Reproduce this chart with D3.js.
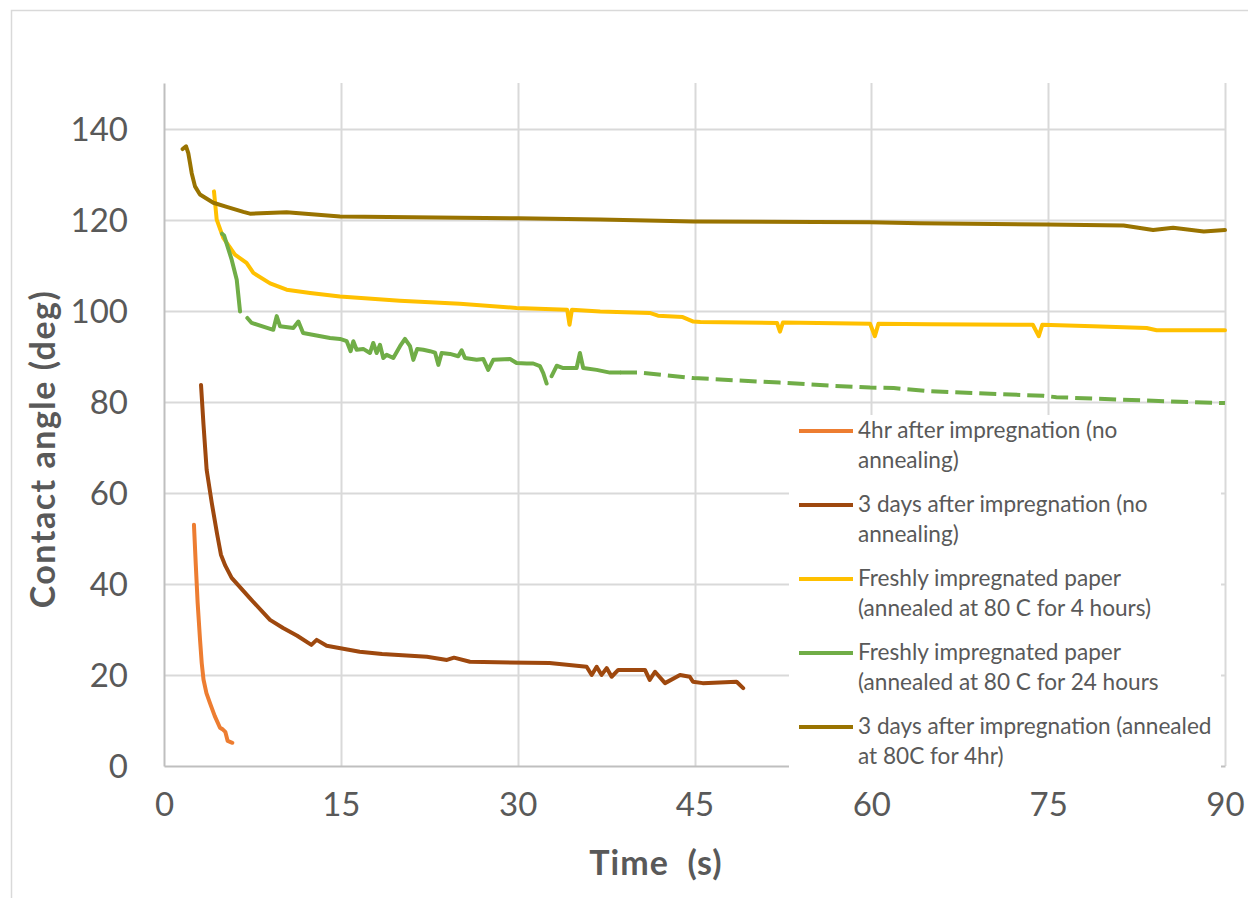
<!DOCTYPE html>
<html>
<head>
<meta charset="utf-8">
<script src="https://cdn.jsdelivr.net/npm/d3@7/dist/d3.min.js"></script>
<style>
  html, body { margin: 0; padding: 0; background: #fff; }
  svg { display: block; font-family: Lato, "Liberation Sans", sans-serif; }
</style>
</head>
<body>
<svg id="chart" width="1248" height="898"></svg>
<script>
// ---------- data ----------
const xTicks = [0, 15, 30, 45, 60, 75, 90];
const yTicks = [0, 20, 40, 60, 80, 100, 120, 140];
const xTitle = "Time  (s)";
const yTitle = "Contact angle (deg)";

const seriesNames = [
  ["4hr after impregnation (no", "annealing)"],
  ["3 days after impregnation (no", "annealing)"],
  ["Freshly impregnated paper", "(annealed at 80 C for 4 hours)"],
  ["Freshly impregnated paper", "(annealed at 80 C for 24 hours"],
  ["3 days after impregnation (annealed", "at 80C for 4hr)"]
];
const seriesColors = ["#ED7D31", "#9E480E", "#FFC000", "#70AD47", "#997300"];

// [time (s), contact angle (deg)]
const fourHrNoAnneal = [
  [2.54, 53.0], [2.7, 44], [2.85, 36], [3.05, 28], [3.2, 22.6], [3.35, 19],
  [3.6, 16], [3.9, 13.8], [4.3, 11], [4.75, 8.4], [5.0, 8.0], [5.2, 7.5],
  [5.4, 5.5], [5.8, 5.1]
];
const threeDayNoAnneal = [
  [3.14, 83.7], [3.35, 75], [3.62, 65], [4.05, 57.8], [4.5, 51], [4.83, 46.4],
  [5.2, 44], [5.74, 41.3], [7.3, 36.8], [8.99, 32.1], [10.1, 30.3], [11.3, 28.6],
  [12.5, 26.6], [12.95, 27.7], [13.8, 26.4], [16.6, 25.1], [18.5, 24.6],
  [22.3, 24.0], [24.0, 23.3], [24.6, 23.8], [25.95, 22.9], [32.7, 22.6],
  [35.85, 21.8], [36.28, 20.0], [36.7, 21.8], [37.12, 20.0], [37.55, 21.5],
  [37.97, 19.6], [38.53, 21.1], [40.8, 21.1], [41.2, 18.9], [41.65, 20.7],
  [42.5, 18.2], [43.77, 20.0], [44.6, 19.6], [44.87, 18.5], [45.7, 18.2],
  [48.57, 18.5], [49.13, 17.1]
];
const freshAnneal4h = [
  [4.24, 126.2], [4.47, 120], [5.03, 116], [6.02, 112.3], [7.0, 110.5],
  [7.58, 108.3], [9.0, 106], [10.4, 104.6], [12.4, 103.9], [14.93, 103.1],
  [20, 102.2], [25.1, 101.5], [29.9, 100.6], [34.2, 100.2], [34.4, 96.9],
  [34.6, 100.2], [37, 99.8], [41.2, 99.5], [41.9, 98.9], [44, 98.6],
  [44.9, 97.6], [45.5, 97.5], [52.0, 97.3], [52.25, 95.4], [52.5, 97.4],
  [59.9, 97.1], [60.3, 94.4], [60.6, 97.1], [65, 97.0], [73.7, 96.9],
  [74.2, 94.4], [74.5, 96.9], [78.8, 96.6], [83.35, 96.2], [84.2, 95.7],
  [90, 95.7]
];
const freshAnneal24h = [
  [4.92, 116.9], [5.1, 116.5], [5.74, 111.2], [6.17, 106.8], [6.45, 99.8],
  null,
  [7.07, 98.4], [7.44, 97.3], [9.27, 95.8], [9.56, 98.8], [9.84, 96.6],
  [10.97, 96.2], [11.4, 97.6], [11.8, 95.1], [14.08, 94.0], [14.93, 93.8],
  [15.5, 93.3], [15.83, 91.1], [16.06, 93.3], [16.34, 91.4], [16.9, 91.6],
  [17.47, 90.7], [17.75, 92.9], [18.04, 90.7], [18.32, 92.5], [18.6, 89.6],
  [18.89, 90.3], [19.45, 89.6], [20.02, 92.2], [20.44, 93.8], [20.87, 92.2],
  [21.15, 89.2], [21.48, 91.6], [22.0, 91.4], [22.56, 91.1], [22.99, 90.8],
  [23.27, 88.1], [23.55, 90.7], [24.26, 90.5], [24.96, 90.0], [25.25, 91.3],
  [25.53, 89.6], [26.52, 89.2], [27.08, 89.4], [27.5, 87.0], [27.93, 89.2],
  [29.35, 89.4], [29.91, 88.5], [30.76, 88.4], [31.32, 88.4], [31.89, 87.8],
  [32.17, 86.3], [32.46, 84.0],
  null,
  [32.88, 85.6], [33.31, 87.9], [33.87, 87.4], [35.0, 87.4], [35.28, 90.7],
  [35.56, 87.4], [36.7, 87.0], [37.83, 86.4], [38.68, 86.4], [40.4, 86.4],
  [44.9, 85.2], [52.2, 84.2], [56.8, 83.5], [59.9, 83.1], [61.9, 83.0],
  [65, 82.3], [74.6, 81.3], [75.7, 81.0], [83.9, 80.2], [90, 79.7]
];
const threeDayAnneal4h = [
  [1.58, 135.5], [1.87, 136.1], [2.06, 134.6], [2.2, 132.5], [2.35, 130.2],
  [2.63, 127.3], [3.05, 125.5], [4.18, 123.7], [5.32, 122.8], [6.73, 121.7],
  [7.29, 121.3], [10.4, 121.6], [14.93, 120.7], [25.1, 120.4], [30, 120.3],
  [37, 120.0], [44.9, 119.6], [59.9, 119.4], [64.1, 119.2], [74.9, 118.9],
  [81.4, 118.7], [83.9, 117.7], [85.6, 118.2], [88.2, 117.4], [90, 117.7]
];
const allSeries = [fourHrNoAnneal, threeDayNoAnneal, freshAnneal4h, freshAnneal24h, threeDayAnneal4h];

// ---------- layout ----------
const plot = { left: 164, right: 1225, top: 83, bottom: 766 };
const dashFrom = 38.68; // green series drawn dashed after this time
const lineW = 4;

const svg = d3.select("#chart");
const x = d3.scaleLinear().domain([0, 90]).range([plot.left, plot.right]);
const y = d3.scaleLinear().domain([0, 150]).range([plot.bottom, plot.top]);

// outer chart border
svg.append("path")
  .attr("d", "M11.5,898 L11.5,10.5 L1248,10.5")
  .attr("fill", "none").attr("stroke", "#d9d9d9").attr("stroke-width", 1.5);

// gridlines
const grid = svg.append("g");
grid.selectAll(".hg").data(yTicks.filter(d => d > 0)).join("line")
  .attr("x1", plot.left).attr("x2", plot.right)
  .attr("y1", d => Math.round(y(d)) + 0.5).attr("y2", d => Math.round(y(d)) + 0.5)
  .attr("stroke", "#d9d9d9").attr("stroke-width", 2);
grid.selectAll(".vg").data(xTicks.filter(d => d > 0)).join("line")
  .attr("y1", plot.top).attr("y2", plot.bottom)
  .attr("x1", d => Math.round(x(d)) + 0.5).attr("x2", d => Math.round(x(d)) + 0.5)
  .attr("stroke", "#d9d9d9").attr("stroke-width", 2);

// axes
const xAxis = svg.append("g").attr("transform", `translate(0,${plot.bottom})`)
  .call(d3.axisBottom(x).tickValues(xTicks).tickSize(0).tickPadding(38));
const yAxis = svg.append("g").attr("transform", `translate(${plot.left},0)`)
  .call(d3.axisLeft(y).tickValues(yTicks).tickSize(0).tickPadding(36));
[xAxis, yAxis].forEach(a => {
  a.select(".domain").attr("stroke", "#bfbfbf").attr("stroke-width", 2);
  a.selectAll("text").attr("fill", "#595959").attr("font-size", 33)
    .attr("font-family", "Lato, sans-serif");
});
yAxis.selectAll("text").attr("dy", "0.36em");
xAxis.selectAll("text").attr("dy", "0.36em");

// axis titles
svg.append("text").attr("x", 656).attr("y", 875).attr("text-anchor", "middle")
  .attr("font-size", 34).attr("font-weight", "bold").attr("fill", "#595959")
  .attr("letter-spacing", 1)
  .style("white-space", "pre").text(xTitle);
svg.append("text").attr("transform", "translate(55,449) rotate(-90)")
  .attr("text-anchor", "middle").attr("font-size", 34).attr("font-weight", "bold")
  .attr("letter-spacing", 1.5)
  .attr("fill", "#595959").text(yTitle);

// lines
const lineGen = d3.line().defined(d => d !== null).x(d => x(d[0])).y(d => y(d[1]));
const lines = svg.append("g");
allSeries.forEach((s, i) => {
  if (i === 3) {
    const solid = s.map(d => (d === null || d[0] <= dashFrom) ? d : null);
    const dashed = s.filter(d => d !== null && d[0] >= dashFrom);
    lines.append("path").attr("d", lineGen(solid))
      .attr("fill", "none").attr("stroke", seriesColors[i]).attr("stroke-width", lineW)
      .attr("stroke-linejoin", "round").attr("stroke-linecap", "round");
    lines.append("path").attr("d", lineGen(dashed))
      .attr("fill", "none").attr("stroke", seriesColors[i]).attr("stroke-width", lineW)
      .attr("stroke-dasharray", "17,7").attr("stroke-linejoin", "round");
  } else {
    lines.append("path").attr("d", lineGen(s))
      .attr("fill", "none").attr("stroke", seriesColors[i]).attr("stroke-width", lineW)
      .attr("stroke-linejoin", "round").attr("stroke-linecap", "round");
  }
});

// legend
const legend = svg.append("g");
legend.append("rect").attr("x", 789).attr("y", 415).attr("width", 432).attr("height", 354)
  .attr("fill", "#fff");
seriesNames.forEach((name, i) => {
  const cy = 431 + i * 74;
  const g = legend.append("g");
  g.append("line").attr("x1", 799).attr("x2", 853).attr("y1", cy).attr("y2", cy)
    .attr("stroke", seriesColors[i]).attr("stroke-width", lineW);
  name.forEach((t, j) => {
    g.append("text").attr("x", 858).attr("y", cy + 7 + j * 29.5)
      .attr("font-size", 22.6).attr("fill", "#595959").text(t);
  });
});
</script>
</body>
</html>
